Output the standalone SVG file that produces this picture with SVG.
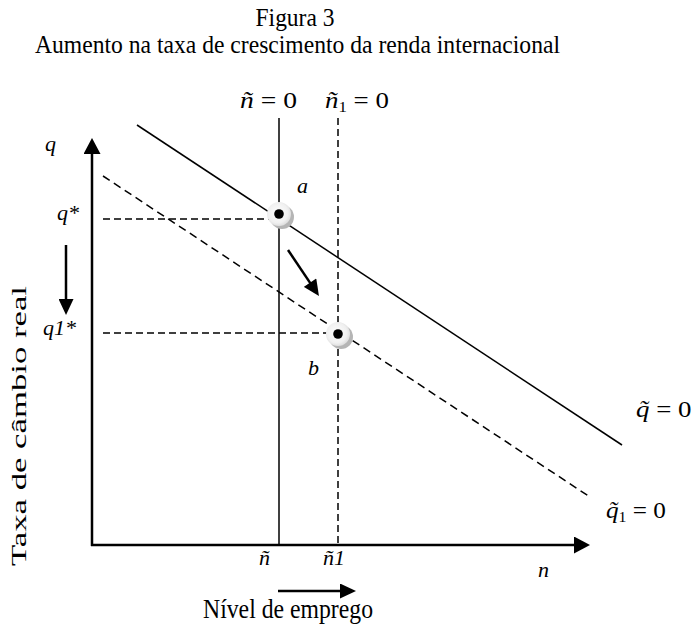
<svg xmlns="http://www.w3.org/2000/svg" width="699" height="625" viewBox="0 0 699 625">
<style>
.t{font-family:"Liberation Serif","Times New Roman",serif;fill:#000}
.big{font-size:23.5px}
.m{font-size:22px}
.e{font-size:24px}
.i{font-style:italic}
.ax{stroke:#000;stroke-width:2.5;fill:none}
.sol{stroke:#000;stroke-width:1.5;fill:none}
.dsh{stroke:#000;stroke-width:1.5;fill:none;stroke-dasharray:8,5}
.dsh2{stroke:#000;stroke-width:1.5;fill:none;stroke-dasharray:7,4}
</style>
<defs>
<marker id="axh" markerUnits="userSpaceOnUse" markerWidth="17" markerHeight="17" viewBox="0 0 16 17" refX="8" refY="8.5" orient="auto"><path d="M0,0 L16,8.5 L0,17 Z" fill="#000"/></marker>
<marker id="sh" markerUnits="userSpaceOnUse" markerWidth="17" markerHeight="15" viewBox="0 0 16 15" refX="8" refY="7.5" orient="auto"><path d="M0,0 L16,7.5 L0,15 Z" fill="#000"/></marker>
<radialGradient id="pg" cx="0.45" cy="0.45" r="0.6"><stop offset="0" stop-color="#ffffff"/><stop offset="0.7" stop-color="#f0f0f0"/><stop offset="1" stop-color="#d8d8d8"/></radialGradient>
</defs>

<g id="titles">
<g transform="translate(295,26) scale(1,1.08)"><text class="t big" text-anchor="middle">Figura 3</text></g>
<g transform="translate(35,53) scale(1,1.08)"><text class="t big" textLength="525" lengthAdjust="spacingAndGlyphs">Aumento na taxa de crescimento da renda internacional</text></g>
</g>

<g id="axes">
<line class="ax" x1="92" y1="546" x2="92" y2="146" marker-end="url(#axh)"/>
<line class="ax" x1="91" y1="545" x2="582" y2="545" marker-end="url(#axh)"/>
</g>

<g id="connectors">
<line class="sol" x1="279" y1="118" x2="279" y2="545"/>
<line class="dsh2" x1="338" y1="118" x2="338" y2="545"/>
<line class="sol" x1="137" y1="125" x2="622" y2="445"/>
<line class="dsh" x1="103" y1="176" x2="590" y2="497"/>
<line class="dsh2" x1="103" y1="219" x2="272" y2="219"/>
<line class="dsh2" x1="103" y1="333" x2="330" y2="333"/>
<line class="ax" x1="288" y1="250" x2="314.5" y2="289.4" marker-end="url(#sh)"/>
<line class="ax" x1="66" y1="245" x2="66" y2="307" marker-end="url(#sh)"/>
<line class="ax" x1="278" y1="591" x2="348" y2="591" marker-end="url(#sh)"/>
</g>

<g id="point-a">
<circle cx="282" cy="217" r="12" fill="#b5b5b5"/>
<circle cx="279" cy="214" r="12" fill="url(#pg)"/>
<circle cx="279" cy="214" r="4.8" fill="#000"/>
</g>
<g id="point-b">
<circle cx="341" cy="337" r="12" fill="#b5b5b5"/>
<circle cx="338" cy="334" r="12" fill="url(#pg)"/>
<circle cx="338" cy="334" r="4.8" fill="#000"/>
</g>

<g id="labels">
<g transform="translate(240,108) scale(1.15,1)"><text class="t e"><tspan class="i">ñ</tspan> = 0</text></g>
<g transform="translate(325,108) scale(1.12,1)"><text class="t e"><tspan class="i">ñ</tspan><tspan font-size="15" dy="4">1</tspan><tspan dy="-4"> = 0</tspan></text></g>
<text class="t m i" x="45" y="151">q</text>
<text class="t m i" x="57" y="220">q*</text>
<text class="t m i" x="43" y="335">q1*</text>
<text class="t m i" x="297" y="193">a</text>
<text class="t m i" x="308" y="375">b</text>
<text class="t m i" x="259" y="565">ñ</text>
<text class="t m i" x="323" y="565">ñ1</text>
<text class="t m i" x="538" y="577">n</text>
<g transform="translate(636,417) scale(1.12,1)"><text class="t e"><tspan class="i">q̃</tspan> = 0</text></g>
<g transform="translate(606,518) scale(1.05,1)"><text class="t e"><tspan class="i">q̃</tspan><tspan font-size="15" dy="4">1</tspan><tspan dy="-4"> = 0</tspan></text></g>
<g transform="translate(26,426) rotate(-90)"><text class="t" font-size="21" text-anchor="middle" textLength="280" lengthAdjust="spacingAndGlyphs">Taxa de câmbio real</text></g>
<g transform="translate(203,618) scale(1,1.12)"><text class="t big" textLength="170" lengthAdjust="spacingAndGlyphs">Nível de emprego</text></g>
</g>
</svg>
